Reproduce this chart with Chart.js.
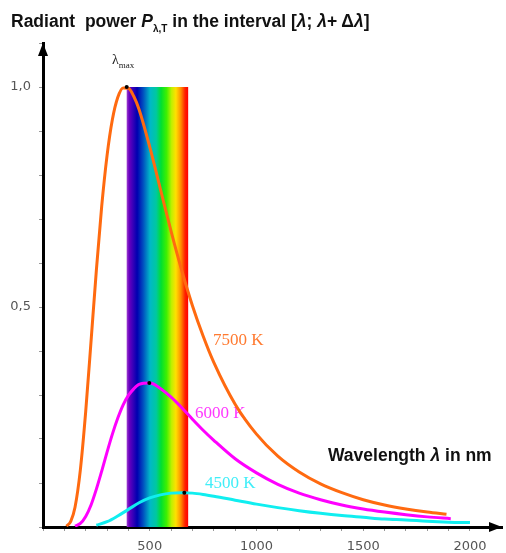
<!DOCTYPE html>
<html>
<head>
<meta charset="utf-8">
<script src="https://cdn.jsdelivr.net/npm/chart.js@4"></script>
<style>
  body { margin: 0; background: #fff; }
  #wrap { position: relative; width: 506px; height: 553px; overflow: hidden; }
  #chart { position: absolute; left: 0; top: 0; }
  .lbl { position: absolute; font-family: "Liberation Sans", Arial, sans-serif; font-weight: bold;
         font-size: 17.5px; line-height: 17px; color: #111; white-space: pre; }
  .lbl sub { font-size: 10px; line-height: 0; }
  #lmax { position: absolute; left: 112px; top: 53px; font-family: "Liberation Serif", serif;
          font-size: 14px; line-height: 14px; color: #222; }
  #lmax sub { font-size: 9px; line-height: 0; }
</style>
</head>
<body>
<div id="wrap">
  <canvas id="chart" width="506" height="553"></canvas>
  <div class="lbl" style="left:11px; top:13px;">Radiant  power <i>P</i><sub>λ,T</sub> in the interval [<i>λ</i>; <i>λ</i>+ Δ<i>λ</i>]</div>
  <div class="lbl" style="left:328px; top:447px;">Wavelength <i>λ</i> in nm</div>
  <div id="lmax">λ<sub>max</sub></div>
</div>
<script>
// Wavelengths (nm) and relative radiant power per temperature
const lambda7500 = [110, 130, 150, 175, 200, 225, 250, 275, 300, 325, 350, 375, 400, 425, 450, 500, 550, 600, 650, 700, 750, 800, 900, 1000, 1100, 1200, 1300, 1400, 1500, 1600, 1700, 1800, 1890];
const power7500  = [0.002, 0.013, 0.045, 0.130, 0.262, 0.422, 0.584, 0.729, 0.844, 0.926, 0.976, 0.998, 0.997, 0.979, 0.949, 0.864, 0.768, 0.672, 0.583, 0.503, 0.434, 0.374, 0.279, 0.211, 0.161, 0.125, 0.098, 0.078, 0.062, 0.050, 0.041, 0.034, 0.029];

const lambda6000 = [150, 175, 200, 225, 250, 275, 300, 325, 350, 375, 400, 425, 450, 500, 550, 600, 650, 700, 750, 800, 900, 1000, 1100, 1200, 1300, 1400, 1500, 1600, 1700, 1800, 1910];
const power6000  = [0.002, 0.008, 0.024, 0.050, 0.086, 0.127, 0.170, 0.211, 0.247, 0.277, 0.299, 0.314, 0.324, 0.327, 0.315, 0.295, 0.271, 0.245, 0.220, 0.197, 0.155, 0.123, 0.097, 0.077, 0.062, 0.050, 0.041, 0.034, 0.028, 0.023, 0.019];

const lambda4500 = [250, 300, 350, 400, 450, 500, 550, 600, 650, 700, 750, 800, 900, 1000, 1100, 1200, 1300, 1400, 1500, 1600, 1700, 1800, 1900, 2000];
const power4500  = [0.004, 0.012, 0.025, 0.040, 0.055, 0.066, 0.073, 0.077, 0.078, 0.077, 0.074, 0.070, 0.061, 0.052, 0.044, 0.037, 0.031, 0.026, 0.022, 0.018, 0.016, 0.013, 0.011, 0.010];

// Maxima marked with dots
const peakLambda = [392, 498, 662];
const peakPower  = [1.0, 0.327, 0.078];

// Visible band
const spectrumFrom = 392;
const spectrumTo = 680;
const spectrumTop = 1.0;

// Axis ticks
const xLabelled = [500, 1000, 1500, 2000];
const yLabels = { '0.5': '0,5', '1.0': '1,0' };

const curveLabels = [
  { text: '7500 K', color: '#ff7a30', x: 213, y: 345 },
  { text: '6000 K', color: '#ff38ff', x: 195, y: 418 },
  { text: '4500 K', color: '#40eef8', x: 205, y: 488 }
];

function toPoints(xs, ys) {
  return xs.map((x, i) => ({ x: x, y: ys[i] }));
}

const spectrumPlugin = {
  id: 'spectrum',
  beforeDatasetsDraw(chart) {
    const ctx = chart.ctx;
    const xs = chart.scales.x, ys = chart.scales.y;
    const x1 = xs.getPixelForValue(spectrumFrom), x2 = xs.getPixelForValue(spectrumTo);
    const y1 = ys.getPixelForValue(spectrumTop), y2 = ys.getPixelForValue(0);
    const g = ctx.createLinearGradient(x1, 0, x2, 0);
    g.addColorStop(0.00, '#a040d0');
    g.addColorStop(0.04, '#6a00c0');
    g.addColorStop(0.17, '#0000b0');
    g.addColorStop(0.27, '#0050c0');
    g.addColorStop(0.38, '#00b8c8');
    g.addColorStop(0.48, '#00c8a0');
    g.addColorStop(0.56, '#00e030');
    g.addColorStop(0.65, '#40f000');
    g.addColorStop(0.73, '#c0f000');
    g.addColorStop(0.80, '#ffe000');
    g.addColorStop(0.88, '#ff9000');
    g.addColorStop(0.95, '#ff2000');
    g.addColorStop(1.00, '#ff0000');
    ctx.save();
    ctx.fillStyle = g;
    ctx.fillRect(x1, y1, x2 - x1, y2 - y1);
    // curve labels sit under the curves
    ctx.font = '17px "Liberation Serif", serif';
    ctx.textBaseline = 'alphabetic';
    curveLabels.forEach(l => {
      ctx.fillStyle = l.color;
      ctx.fillText(l.text, l.x, l.y);
    });
    ctx.restore();
  },
  afterDraw(chart) {
    const ctx = chart.ctx;
    const a = chart.chartArea;
    ctx.save();
    ctx.fillStyle = '#000';
    // y arrow
    ctx.beginPath();
    ctx.moveTo(a.left, a.top);
    ctx.lineTo(a.left - 5, a.top + 13);
    ctx.lineTo(a.left + 5, a.top + 13);
    ctx.closePath();
    ctx.fill();
    // x arrow
    ctx.beginPath();
    ctx.moveTo(a.right, a.bottom);
    ctx.lineTo(a.right - 13, a.bottom - 5);
    ctx.lineTo(a.right - 13, a.bottom + 5);
    ctx.closePath();
    ctx.fill();
    ctx.restore();
  }
};

const lineStyle = {
  pointRadius: 0,
  borderWidth: 3,
  fill: false,
  tension: 0.4,
  cubicInterpolationMode: 'monotone'
};

new Chart(document.getElementById('chart'), {
  type: 'line',
  data: {
    datasets: [
      { ...lineStyle, data: toPoints(peakLambda, peakPower), showLine: false, pointRadius: 2,
        pointBackgroundColor: '#000', pointBorderWidth: 0, order: 0 },
      { ...lineStyle, data: toPoints(lambda7500, power7500), borderColor: '#ff6a10', order: 1 },
      { ...lineStyle, data: toPoints(lambda6000, power6000), borderColor: '#ff00ff', order: 2 },
      { ...lineStyle, data: toPoints(lambda4500, power4500), borderColor: '#10eef0', order: 3 }
    ]
  },
  options: {
    responsive: false,
    devicePixelRatio: 1,
    animation: false,
    layout: { padding: { top: 43, right: 1, left: 0, bottom: 0 } },
    plugins: { legend: { display: false }, tooltip: { enabled: false } },
    scales: {
      x: {
        type: 'linear',
        min: 0,
        max: 2150,
        afterFit: s => { s.height = 26; },
        border: { color: '#000', width: 3 },
        grid: { drawOnChartArea: false, tickLength: 4, tickColor: '#999', tickWidth: 1 },
        ticks: {
          stepSize: 100,
          includeBounds: false,
          autoSkip: false,
          maxRotation: 0,
          padding: 8,
          color: '#555',
          font: { family: '"DejaVu Sans", sans-serif', size: 13 },
          callback: v => xLabelled.includes(v) ? String(v) : ''
        }
      },
      y: {
        min: 0,
        max: 1.1,
        afterFit: s => { s.width = 43; },
        border: { color: '#000', width: 3 },
        grid: { drawOnChartArea: false, tickLength: 4, tickColor: '#999', tickWidth: 1 },
        ticks: {
          stepSize: 0.1,
          includeBounds: false,
          autoSkip: false,
          padding: 8,
          color: '#555',
          font: { family: '"DejaVu Sans", sans-serif', size: 13 },
          callback: v => yLabels[v.toFixed(1)] || ''
        }
      }
    }
  },
  plugins: [spectrumPlugin]
});
</script>
</body>
</html>
